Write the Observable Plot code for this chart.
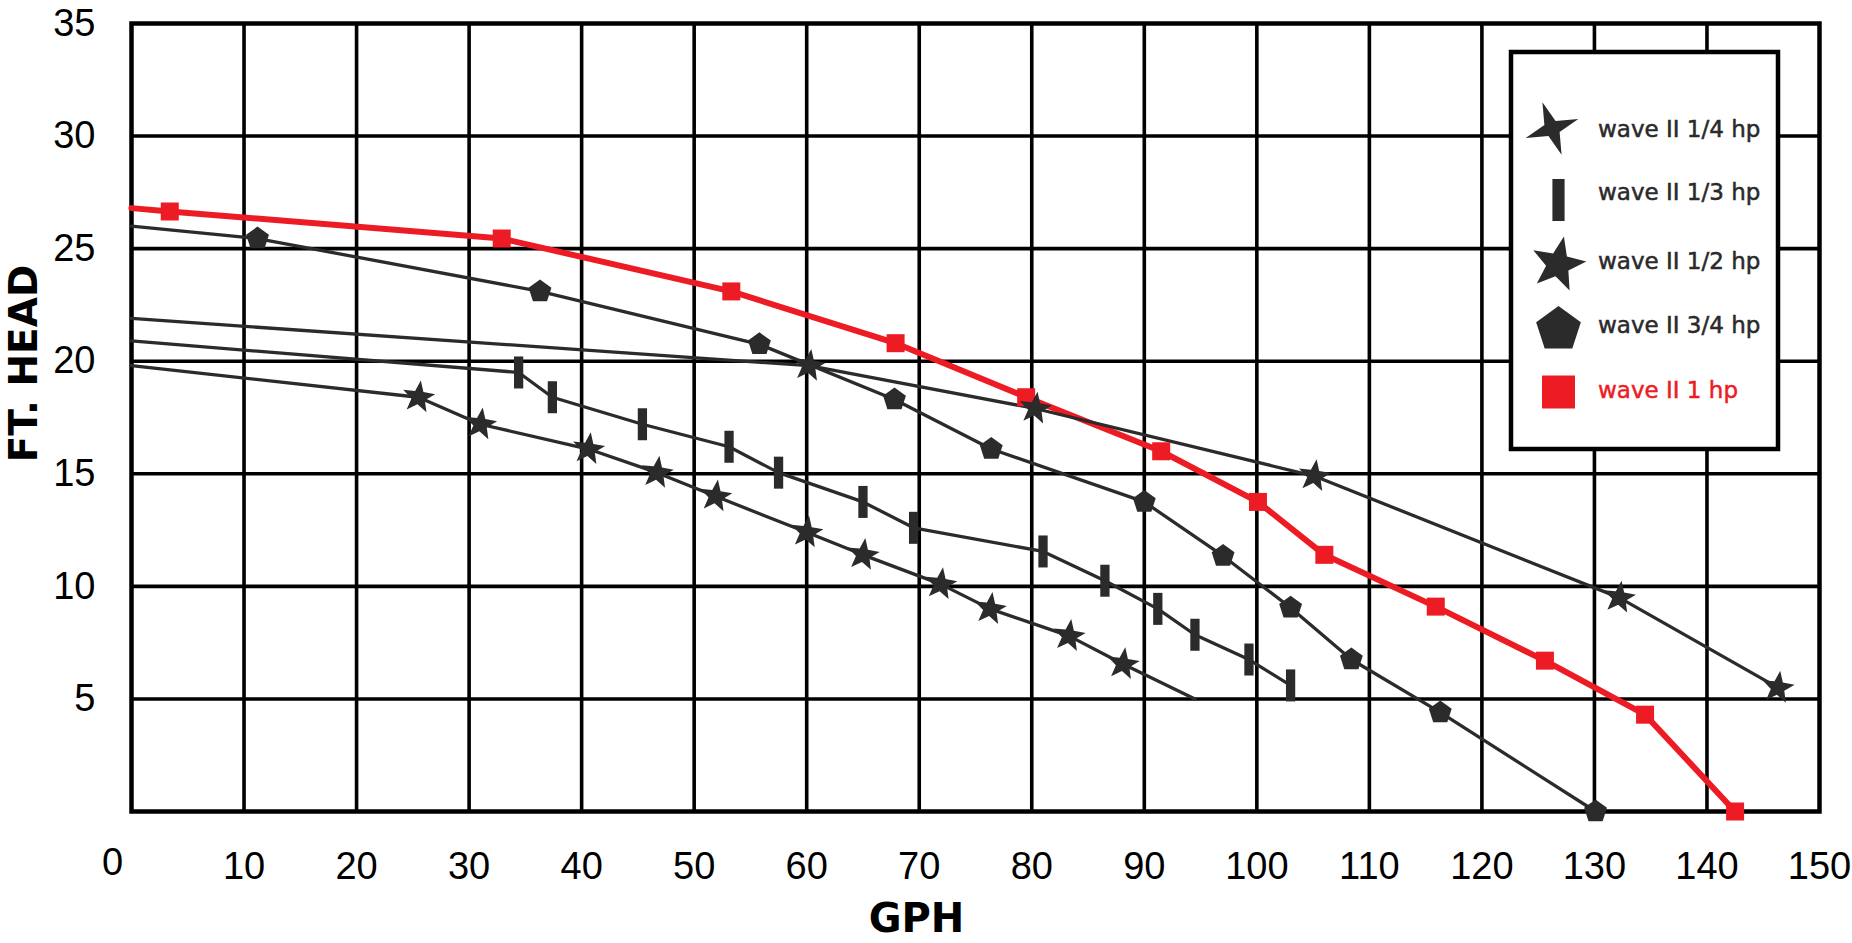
<!DOCTYPE html>
<html>
<head>
<meta charset="utf-8">
<script src="https://cdn.jsdelivr.net/npm/d3@7"></script>
<script src="https://cdn.jsdelivr.net/npm/@observablehq/plot@0.6"></script>
<style>
  html, body { margin: 0; padding: 0; background: #fff; }
  #chart { width: 1852px; height: 943px; }
</style>
</head>
<body>
<div id="chart"></div>
<script>
// ---------- data ----------
const xTicks = [0, 10, 20, 30, 40, 50, 60, 70, 80, 90, 100, 110, 120, 130, 140, 150];
const xTickLabels = ["0", "10", "20", "30", "40", "50", "60", "70", "80", "90", "100", "110", "120", "130", "140", "150"];
const yTicks = [5, 10, 15, 20, 25, 30, 35];
const yTickLabels = ["5", "10", "15", "20", "25", "30", "35"];
const xTitle = "GPH";
const yTitle = "FT. HEAD";

const seriesNames = ["wave II 1/4 hp", "wave II 1/3 hp", "wave II 1/2 hp", "wave II 3/4 hp", "wave II 1 hp"];
const seriesColors = ["#2b2b2b", "#2b2b2b", "#2b2b2b", "#2b2b2b", "#ed1c24"];

// head at 0 GPH (line start, no marker)
const startHead = [19.8, 20.9, 21.9, 26.0, 26.8];

// marked points
const quarterGph  = [25.5, 31.0, 40.6, 46.7, 51.9, 60.0, 65.0, 71.9, 76.3, 83.3, 88.1];
const quarterHead = [18.4, 17.2, 16.1, 15.05, 14.0, 12.4, 11.4, 10.1, 9.0, 7.8, 6.55];
const quarterEndGph = 94.5, quarterEndHead = 5.0; // line end, no marker

const thirdGph  = [34.4, 37.4, 45.4, 53.1, 57.5, 65.0, 69.5, 81.0, 86.5, 91.2, 94.5, 99.3, 103.0];
const thirdHead = [19.5, 18.4, 17.2, 16.2, 15.05, 13.75, 12.6, 11.55, 10.25, 9.0, 7.85, 6.75, 5.6];

const halfGph  = [60.2, 80.3, 105.1, 132.2, 146.3];
const halfHead = [19.8, 17.9, 14.9, 9.5, 5.5];

const threeQGph  = [11.2, 36.3, 55.8, 67.8, 76.4, 90.0, 97.0, 103.0, 108.4, 116.3, 130.1];
const threeQHead = [25.45, 23.1, 20.75, 18.3, 16.1, 13.75, 11.35, 9.05, 6.75, 4.4, 0];

const oneGph  = [3.4, 32.9, 53.3, 67.9, 79.5, 91.5, 100.1, 106.0, 115.9, 125.6, 134.5, 142.5];
const oneHead = [26.65, 25.45, 23.1, 20.8, 18.4, 16.0, 13.75, 11.4, 9.1, 6.7, 4.3, 0];

// ---------- symbols ----------
const radiusOf = s => Math.sqrt(s / Math.PI);
function starSymbol(n, inner) {
  return { draw(ctx, size) {
    const R = radiusOf(size), r = R * inner;
    for (let i = 0; i < 2 * n; i++) {
      const a = -Math.PI / 2 + i * Math.PI / n;
      const rr = i % 2 ? r : R;
      const x = rr * Math.cos(a), y = rr * Math.sin(a);
      if (i) ctx.lineTo(x, y); else ctx.moveTo(x, y);
    }
    ctx.closePath();
  }};
}
const star5 = starSymbol(5, 0.42);
const star4 = starSymbol(4, 0.3);
const pentagon = { draw(ctx, size) {
  const R = radiusOf(size);
  for (let i = 0; i < 5; i++) {
    const a = -Math.PI / 2 + i * 2 * Math.PI / 5;
    const x = R * Math.cos(a), y = R * Math.sin(a);
    if (i) ctx.lineTo(x, y); else ctx.moveTo(x, y);
  }
  ctx.closePath();
}};
const bar = { draw(ctx, size) {
  const R = radiusOf(size), w = R * 0.29;
  ctx.moveTo(-w, -R); ctx.lineTo(w, -R); ctx.lineTo(w, R); ctx.lineTo(-w, R); ctx.closePath();
}};
const square = { draw(ctx, size) {
  const R = radiusOf(size);
  ctx.moveTo(-R, -R); ctx.lineTo(R, -R); ctx.lineTo(R, R); ctx.lineTo(-R, R); ctx.closePath();
}};

// ---------- build tables ----------
const zip = (g, h) => g.map((v, i) => ({gph: v, head: h[i]}));
const markerSets = [
  zip(quarterGph, quarterHead),
  zip(thirdGph, thirdHead),
  zip(halfGph, halfHead),
  zip(threeQGph, threeQHead),
  zip(oneGph, oneHead)
];
const lineSets = markerSets.map((m, i) => {
  const pts = [{gph: 0, head: startHead[i]}, ...m];
  if (i === 0) pts.push({gph: quarterEndGph, head: quarterEndHead});
  return pts;
});
const chartSymbols = [star5, bar, star5, pentagon, square];
const chartR = [17, 16, 17, 12, 9];
const chartRotate = [8, 0, 8, 0, 0];
const lineWidths = [3.3, 3.3, 3.3, 3.3, 6];

const drawOrder = [4, 0, 1, 2, 3];
const lineMarks = drawOrder.map(i => Plot.line(lineSets[i], {
  x: "gph", y: "head", stroke: seriesColors[i], strokeWidth: lineWidths[i], strokeLinejoin: "miter"
}));
const dotMarks = drawOrder.map(i => Plot.dot(markerSets[i], {
  x: "gph", y: "head", symbol: chartSymbols[i], r: chartR[i], rotate: chartRotate[i],
  fill: seriesColors[i], stroke: "none"
}));

const gridX = xTicks.filter(v => v > 0 && v < 150);
const gridY = yTicks.filter(v => v > 0 && v < 35);
const xLab = xTicks.map((v, i) => ({v, t: xTickLabels[i]}));
const yLab = yTicks.map((v, i) => ({v, t: yTickLabels[i]}));

const plot = Plot.plot({
  width: 1852,
  height: 943,
  marginLeft: 131,
  marginRight: 33,
  marginTop: 23,
  marginBottom: 132,
  x: {domain: [0, 150], axis: null},
  y: {domain: [0, 35], axis: null},
  style: {background: "#fff", fontFamily: "'Liberation Sans', Arial, sans-serif", fontSize: "38px", color: "#000", overflow: "visible"},
  marks: [
    Plot.ruleX(gridX, {stroke: "#000", strokeWidth: 3.6}),
    Plot.ruleY(gridY, {stroke: "#000", strokeWidth: 3.6}),
    Plot.frame({stroke: "#000", strokeWidth: 4.5}),
    Plot.text(xLab.filter(d => d.v > 0), {x: "v", text: "t", frameAnchor: "bottom", lineAnchor: "bottom", dy: 67, fill: "#000", fontSize: 38}),
    Plot.text(xLab.filter(d => d.v === 0), {x: "v", text: "t", frameAnchor: "bottom", lineAnchor: "bottom", dy: 63, dx: -19, fill: "#000", fontSize: 38}),
    Plot.text(yLab, {y: "v", text: "t", frameAnchor: "left", textAnchor: "end", lineAnchor: "middle", dx: -36, fill: "#000", fontSize: 38}),
    ...lineMarks,
    ...dotMarks
  ]
});

const svg = d3.select(plot);

// axis titles
svg.append("text")
  .attr("transform", "translate(37,363.5) rotate(-90)")
  .attr("text-anchor", "middle")
  .attr("font-family", "'DejaVu Sans', sans-serif")
  .attr("font-weight", "bold")
  .attr("font-size", 39)
  .attr("fill", "#000")
  .text(yTitle);
svg.append("text")
  .attr("x", 916.5).attr("y", 932)
  .attr("text-anchor", "middle")
  .attr("font-family", "'DejaVu Sans', sans-serif")
  .attr("font-weight", "bold")
  .attr("font-size", 40)
  .attr("fill", "#000")
  .text(xTitle);

// legend
const lg = svg.append("g");
lg.append("rect").attr("x", 1511).attr("y", 52).attr("width", 267).attr("height", 397)
  .attr("fill", "#fff").attr("stroke", "#000").attr("stroke-width", 4.5);
const legendSymbols = [star4, bar, star5, pentagon, square];
const legendR = [28, 21, 28.5, 23.5, 16.5];
const legendRot = [-20, 0, 12, 0, 0];
const legendSymX = [1552, 1558.5, 1558, 1558.5, 1558.5];
const legendSymY = [128.5, 200, 264.5, 329.5, 392];
const legendTextY = [137, 200, 269, 333, 398];
seriesNames.forEach((name, i) => {
  const p = d3.path();
  legendSymbols[i].draw(p, Math.PI * legendR[i] * legendR[i]);
  lg.append("path").attr("d", p.toString())
    .attr("transform", `translate(${legendSymX[i]},${legendSymY[i]}) rotate(${legendRot[i]})`)
    .attr("fill", seriesColors[i]);
  const col = i === 4 ? "#ed1c24" : "#2a2a2a";
  lg.append("text").attr("x", 1598).attr("y", legendTextY[i])
    .attr("text-anchor", "start")
    .attr("font-family", "'DejaVu Sans', sans-serif")
    .attr("font-size", 23)
    .attr("fill", col)
    .attr("stroke", col)
    .attr("stroke-width", 0.5)
    .text(name);
});

document.getElementById("chart").appendChild(plot);
</script>
</body>
</html>
